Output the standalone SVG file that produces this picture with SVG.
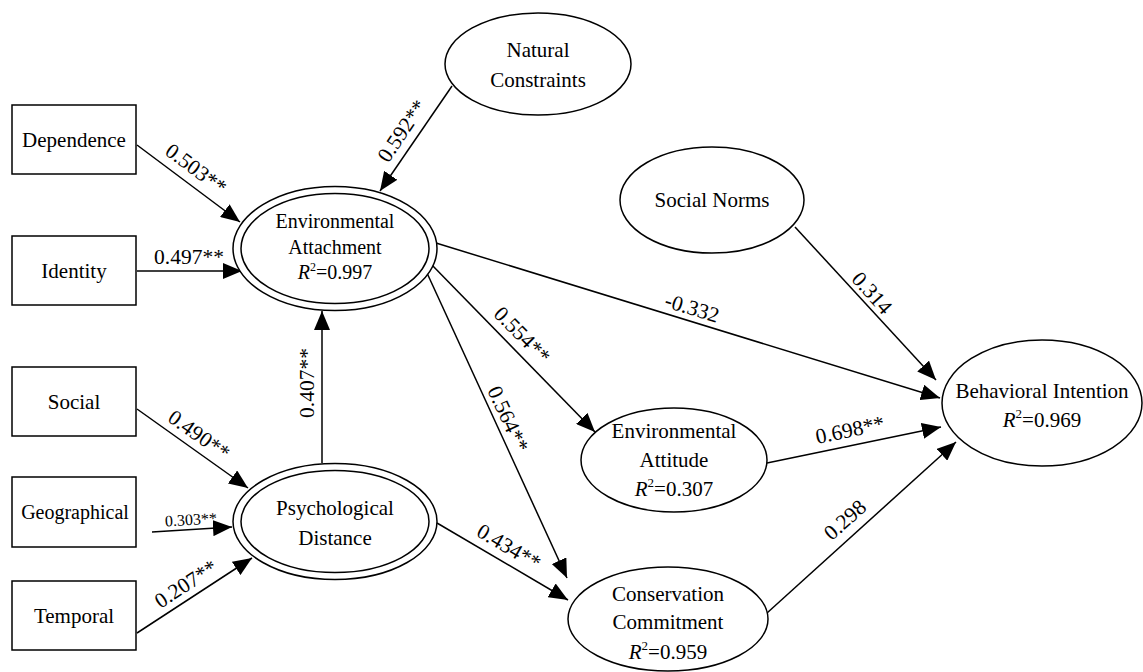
<svg xmlns="http://www.w3.org/2000/svg" width="1143" height="672" viewBox="0 0 1143 672">
<style>
.box{fill:#fff;stroke:#000;stroke-width:1.5}
.ell{fill:#fff;stroke:#000;stroke-width:1.5}
.t{font-family:"Liberation Serif","Times New Roman",serif;font-size:21px;fill:#000;text-anchor:middle}
.t20{font-size:20px}
.lbl{font-family:"Liberation Serif","Times New Roman",serif;font-size:21.5px;fill:#000;text-anchor:middle}
.sm{font-size:16px}
.e{stroke:#000;stroke-width:1.5;fill:none;marker-end:url(#ah)}
.i{font-style:italic}
</style>
<defs>
<marker id="ah" markerWidth="19" markerHeight="16" refX="19" refY="8" orient="auto" markerUnits="userSpaceOnUse">
<path d="M0,0 L19,8 L0,16 z" fill="#000"/>
</marker>
</defs>
<rect width="1143" height="672" fill="#fff"/>

<g id="connectors">
<line class="e" x1="137" y1="145" x2="240" y2="222"/>
<line class="e" x1="137" y1="271" x2="242" y2="271"/>
<line class="e" x1="452" y1="86" x2="380" y2="191"/>
<line class="e" x1="322" y1="463" x2="322" y2="311"/>
<line class="e" x1="137" y1="409" x2="248" y2="488"/>
<line class="e" x1="152" y1="532" x2="232" y2="527"/>
<line class="e" x1="137" y1="633" x2="252" y2="558"/>
<line class="e" x1="430" y1="263" x2="595" y2="432"/>
<line class="e" x1="427" y1="273" x2="567" y2="578"/>
<line class="e" x1="437" y1="523" x2="568" y2="600"/>
<line class="e" x1="436" y1="243" x2="940" y2="398"/>
<line class="e" x1="795" y1="227" x2="936" y2="380"/>
<line class="e" x1="767" y1="463" x2="941" y2="427"/>
<line class="e" x1="767" y1="613" x2="956" y2="442"/>
<g id="edge-labels">
<text class="lbl" transform="translate(196,169) rotate(36.8)" y="7">0.503**</text>
<text class="lbl" x="189" y="264">0.497**</text>
<text class="lbl" transform="translate(402,131) rotate(-55.8)" y="7">0.592**</text>
<text class="lbl" transform="translate(307,383) rotate(-90)" y="7">0.407**</text>
<text class="lbl" transform="translate(199,435) rotate(35.4)" y="7">0.490**</text>
<text class="lbl sm" transform="translate(191,520) rotate(-3.5)" y="5">0.303**</text>
<text class="lbl" transform="translate(186,584) rotate(-33)" y="7">0.207**</text>
<text class="lbl" transform="translate(522,335) rotate(45.7)" y="7">0.554**</text>
<text class="lbl" transform="translate(508,419) rotate(65.3)" y="7">0.564**</text>
<text class="lbl" transform="translate(509,547) rotate(30.4)" y="7">0.434**</text>
<text class="lbl" transform="translate(692,308) rotate(17.1)" y="7">-0.332</text>
<text class="lbl" transform="translate(872,293) rotate(48)" y="7">0.314</text>
<text class="lbl" transform="translate(850,430) rotate(-11.8)" y="7">0.698**</text>
<text class="lbl" transform="translate(845,520) rotate(-41.8)" y="7">0.298</text>
</g>
</g>

<g id="dependence"><rect class="box" x="12" y="105" width="124" height="69"/><text class="t" x="74" y="147">Dependence</text></g>
<g id="identity"><rect class="box" x="12" y="236" width="124" height="69"/><text class="t" x="74" y="278">Identity</text></g>
<g id="social"><rect class="box" x="12" y="367" width="124" height="69"/><text class="t" x="74" y="409">Social</text></g>
<g id="geographical"><rect class="box" x="12" y="477" width="124" height="70"/><text class="t t20" x="75" y="519">Geographical</text></g>
<g id="temporal"><rect class="box" x="12" y="581" width="124" height="69"/><text class="t" x="74" y="623">Temporal</text></g>

<g id="environmental-attachment">
<ellipse class="ell" cx="335" cy="248.5" rx="102" ry="62"/>
<ellipse class="ell" cx="335" cy="248.5" rx="94" ry="55"/>
<text class="t t20" x="335" y="228">Environmental</text>
<text class="t t20" x="335" y="254">Attachment</text>
<text class="t t20" x="335" y="279"><tspan class="i">R</tspan><tspan dy="-8" font-size="12">2</tspan><tspan dy="8">=0.997</tspan></text>
</g>
<g id="psychological-distance">
<ellipse class="ell" cx="335" cy="521.5" rx="102" ry="58"/>
<ellipse class="ell" cx="335" cy="521.5" rx="94" ry="51"/>
<text class="t" x="335" y="515">Psychological</text>
<text class="t" x="335" y="545">Distance</text>
</g>
<g id="natural-constraints">
<ellipse class="ell" cx="538" cy="64" rx="93" ry="51"/>
<text class="t" x="538" y="57">Natural</text>
<text class="t" x="538" y="87">Constraints</text>
</g>
<g id="social-norms">
<ellipse class="ell" cx="712" cy="200" rx="92" ry="53"/>
<text class="t" x="712" y="207">Social Norms</text>
</g>
<g id="environmental-attitude">
<ellipse class="ell" cx="674" cy="460" rx="93" ry="52"/>
<text class="t" x="674" y="438">Environmental</text>
<text class="t" x="674" y="467">Attitude</text>
<text class="t" x="674" y="496"><tspan class="i">R</tspan><tspan dy="-9" font-size="13">2</tspan><tspan dy="9">=0.307</tspan></text>
</g>
<g id="conservation-commitment">
<ellipse class="ell" cx="668" cy="619" rx="100" ry="52"/>
<text class="t" x="668" y="601">Conservation</text>
<text class="t" x="668" y="629">Commitment</text>
<text class="t" x="668" y="659"><tspan class="i">R</tspan><tspan dy="-9" font-size="13">2</tspan><tspan dy="9">=0.959</tspan></text>
</g>
<g id="behavioral-intention">
<ellipse class="ell" cx="1042" cy="403" rx="100" ry="63"/>
<text class="t" x="1042" y="398" font-size="22">Behavioral Intention</text>
<text class="t" x="1042" y="427"><tspan class="i">R</tspan><tspan dy="-9" font-size="13">2</tspan><tspan dy="9">=0.969</tspan></text>
</g>
</svg>
